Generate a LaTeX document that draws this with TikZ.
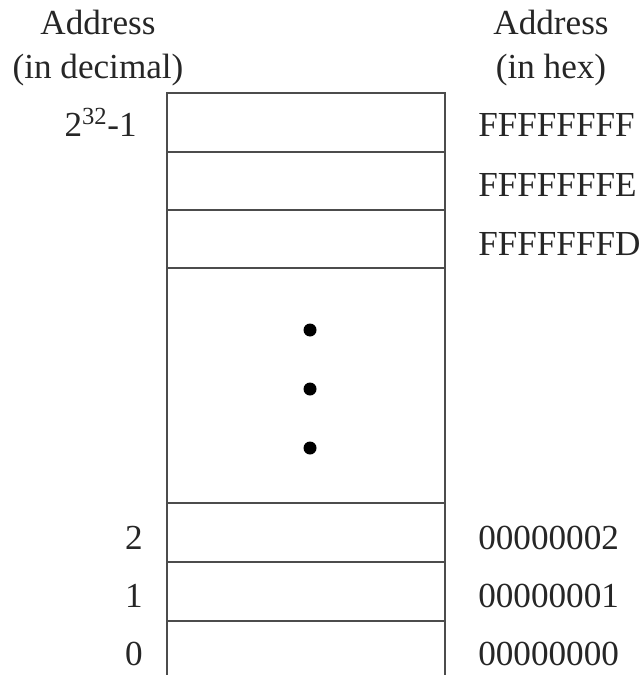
\documentclass[tikz,border=0pt]{standalone}
\usepackage{fontspec}
\setmainfont{Liberation Serif}
\usetikzlibrary{positioning}

\tikzset{
  memline/.style={line width=1pt, draw=black!70},
  declabel/.style={anchor=base east, inner sep=0pt},
  hexlabel/.style={anchor=base west, inner sep=0pt},
  headlabel/.style={anchor=base, inner sep=0pt},
  memdot/.style={fill=black}
}

\begin{document}
\begin{tikzpicture}[x=0.025cm, y=-0.025cm, font=\fontsize{25}{30}\selectfont, text=black!85]
    \useasboundingbox (0,0) rectangle (639,675);

    % Headings
    \node[headlabel] (decaddr) at (98, 35) {Address};
    \node[headlabel] (decunit) at (98, 79) {(in decimal)};
    \node[headlabel] (hexaddr) at (551, 35) {Address};
    \node[headlabel] (hexunit) at (551, 79) {(in hex)};

    % Memory column (runs off the bottom)
    \draw[memline] (167, 675) -- (167, 93) -- (445, 93) -- (445, 675);
    \draw[memline] (167, 152) -- (445, 152);
    \draw[memline] (167, 210) -- (445, 210);
    \draw[memline] (167, 268) -- (445, 268);
    \draw[memline] (167, 503) -- (445, 503);
    \draw[memline] (167, 562) -- (445, 562);
    \draw[memline] (167, 621) -- (445, 621);

    % Dots
    \fill[memdot] (310, 330) circle (6.5);
    \fill[memdot] (310, 389) circle (6.5);
    \fill[memdot] (310, 448) circle (6.5);

    % Decimal addresses
    \node[declabel] (dtop) at (137, 137) {2\textsuperscript{32}-1};
    \node[declabel] (dtwo) at (143, 549) {2};
    \node[declabel] (done) at (143, 607) {1};
    \node[declabel] (dzero) at (143, 665) {0};

    % Hex addresses
    \node[hexlabel] (htop) at (478, 137) {FFFFFFFF};
    \node[hexlabel] (hnext) at (478, 196) {FFFFFFFE};
    \node[hexlabel] (hthird) at (478, 255) {FFFFFFFD};
    \node[hexlabel] (htwo) at (478, 549) {00000002};
    \node[hexlabel] (hone) at (478, 607) {00000001};
    \node[hexlabel] (hzero) at (478, 665) {00000000};
\end{tikzpicture}
\end{document}
